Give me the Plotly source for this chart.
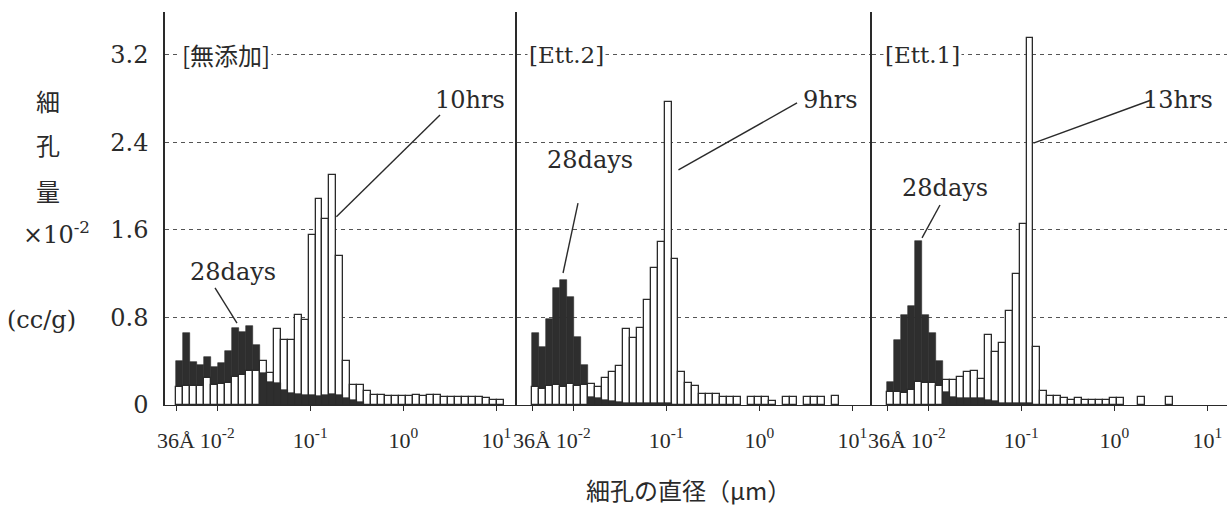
import numpy as np
import plotly.graph_objects as go

# ---------------- data ----------------
# x bins: log10 of pore diameter in micrometres, starting at 36 Angstrom
D_MIN_UM = 0.0036
BIN_DECADES = 0.075
N_BINS = 47
log_edges = np.log10(D_MIN_UM) + BIN_DECADES * np.arange(N_BINS + 1)
log_centers = (log_edges[:-1] + log_edges[1:]) / 2

panel_titles = ["[無添加]", "[Ett.2]", "[Ett.1]"]
early_labels = ["10hrs", "9hrs", "13hrs"]
late_label = "28days"

# pore volume (x10^-2 cc/g) per bin
mutenka_early = [0.16, 0.17, 0.17, 0.17, 0.25, 0.18, 0.19, 0.20, 0.26, 0.27, 0.31, 0.31,
                 0.40, 0.29, 0.69, 0.59, 0.59, 0.82, 0.78, 1.55, 1.88, 1.70, 2.10, 1.36, 0.40,
                 0.18, 0.18, 0.13, 0.09, 0.09, 0.08, 0.08, 0.08, 0.08, 0.09, 0.08, 0.09, 0.09,
                 0.07, 0.07, 0.07, 0.07, 0.07, 0.07, 0.06, 0.05, 0.05]
mutenka_28d = [0.40, 0.66, 0.39, 0.37, 0.44, 0.35, 0.38, 0.49, 0.70, 0.67, 0.72, 0.55,
               0.29, 0.21, 0.20, 0.14, 0.11, 0.10, 0.09, 0.09, 0.08, 0.09, 0.10, 0.09, 0.06,
               0.05, 0.03, 0, 0, 0, 0, 0, 0, 0, 0, 0, 0, 0, 0, 0, 0, 0, 0, 0, 0, 0, 0]

ett2_early = [0.16, 0.15, 0.17, 0.18, 0.16, 0.19, 0.17, 0.18,
              0.19, 0.16, 0.25, 0.30, 0.36,
              0.69, 0.61, 0.70, 0.96, 1.25, 1.49, 2.77, 1.33,
              0.30, 0.20, 0.17, 0.10, 0.10, 0.10, 0.07, 0.07, 0.07, 0, 0.07, 0.07, 0.07,
              0.04, 0, 0.07, 0.07, 0, 0.07, 0.07, 0.07, 0, 0.08, 0, 0, 0]
ett2_28d = [0.66, 0.53, 0.79, 1.07, 1.14, 0.99, 0.62, 0.37, 0.07, 0.06, 0.05, 0.04, 0.03,
            0.02, 0.02, 0.02, 0.02, 0.02, 0.02, 0.02,
            0, 0, 0, 0, 0, 0, 0, 0, 0, 0, 0, 0, 0, 0, 0, 0, 0, 0, 0, 0, 0, 0, 0, 0, 0, 0, 0]

ett1_early = [0.12, 0.12, 0.11, 0.14, 0.21, 0.20, 0.20, 0.17, 0.23, 0.23, 0.26, 0.30, 0.31,
              0.24, 0.64, 0.48, 0.57, 0.86, 1.20, 1.65, 3.35, 0.53, 0.13, 0.08, 0.08, 0.06,
              0.05, 0.06, 0.05, 0.05, 0.05, 0.05, 0.06, 0.06, 0, 0, 0.07, 0, 0, 0, 0.07,
              0, 0, 0, 0, 0, 0]
ett1_28d = [0.21, 0.59, 0.82, 0.90, 1.50, 0.82, 0.66, 0.40, 0.12, 0.07, 0.06, 0.06, 0.06,
            0.06, 0.05, 0.04, 0.02, 0.02, 0.02, 0.02, 0.02,
            0, 0, 0, 0, 0, 0, 0, 0, 0, 0, 0, 0, 0, 0, 0, 0, 0, 0, 0, 0, 0, 0, 0, 0, 0, 0]

x_tick_vals = [np.log10(D_MIN_UM), -2, -1, 0, 1]
x_tick_text = ["36Å", "10<sup>-2</sup>", "10<sup>-1</sup>", "10<sup>0</sup>", "10<sup>1</sup>"]
y_tick_vals = [0, 0.8, 1.6, 2.4, 3.2]
y_tick_text = ["0", "0.8", "1.6", "2.4", "3.2"]

panels = [(mutenka_early, mutenka_28d), (ett2_early, ett2_28d), (ett1_early, ett1_28d)]

# ---------------- style ----------------
INK = "#2a2a2a"
DARK = "#2e2e2e"
SERIF = "DejaVu Serif, Noto Sans CJK JP"
TICKSERIF = "Liberation Serif, DejaVu Serif"
CJK = "Noto Sans CJK JP"

fig = go.Figure()
axis_ids = [("x", "y"), ("x2", "y2"), ("x3", "y3")]


def nz(values):
    return [v if v > 0 else None for v in values]


for (early, late), (xa, ya) in zip(panels, axis_ids):
    # 28 days (dark) underneath
    fig.add_trace(go.Bar(x=log_centers, y=nz(late), width=BIN_DECADES,
                         marker=dict(color=DARK, line=dict(color=DARK, width=0.6)),
                         xaxis=xa, yaxis=ya, showlegend=False, hoverinfo="skip"))
    # early age (open bars)
    fig.add_trace(go.Bar(x=log_centers, y=nz(early), width=BIN_DECADES,
                         marker=dict(color="white", line=dict(color=INK, width=1.3)),
                         xaxis=xa, yaxis=ya, showlegend=False, hoverinfo="skip"))
    # 28 days where it is lower than the open bar: drawn on top
    late_top = [l if (l > 0 and l < e) else None for e, l in zip(early, late)]
    fig.add_trace(go.Bar(x=log_centers, y=late_top, width=BIN_DECADES,
                         marker=dict(color=DARK, line=dict(color=DARK, width=0.6)),
                         xaxis=xa, yaxis=ya, showlegend=False, hoverinfo="skip"))

W, H = 1227, 506
L, R, T, B = 165, 0, 12, 101
PW = W - L - R
d1 = 352 / PW
d2 = 707 / PW

x_ranges = [[-2.562, 1.223], [-2.605, 1.212], [-2.605, 1.212]]
domains = [[0, d1], [d1, d2], [d2, 1]]

common_x = dict(tickvals=x_tick_vals, ticktext=x_tick_text, ticks="outside", ticklen=5,
                tickcolor=INK, showline=True, linecolor=INK, linewidth=1.2,
                showgrid=False, zeroline=False, tickangle=0, automargin=False,
                tickfont=dict(family=TICKSERIF, size=22, color=INK),
                ticklabelstandoff=10)
common_y = dict(range=[0, 3.59], tickvals=y_tick_vals, showline=True, linecolor=INK,
                linewidth=1.5, showgrid=True, gridcolor="#555555", gridwidth=1,
                griddash="4px,4px", zeroline=False, ticks="", automargin=False)

layout = dict(width=W, height=H, margin=dict(l=L, r=R, t=T, b=B),
              paper_bgcolor="white", plot_bgcolor="white", barmode="overlay",
              bargap=0, showlegend=False)
for i, (xa, ya) in enumerate(axis_ids):
    xk = "xaxis" if i == 0 else f"xaxis{i+1}"
    yk = "yaxis" if i == 0 else f"yaxis{i+1}"
    layout[xk] = dict(common_x, domain=domains[i], range=x_ranges[i], anchor=ya)
    if i == 0:
        layout[yk] = dict(common_y, domain=[0, 1], anchor=xa, ticktext=y_tick_text,
                          tickfont=dict(family=SERIF, size=24, color=INK),
                          ticklabelstandoff=10)
    else:
        layout[yk] = dict(common_y, domain=[0, 1], anchor=xa, matches="y",
                          showticklabels=False)
fig.update_layout(**layout)

# ---------------- annotations ----------------
ann = []
title_x = [-2.401, -2.497, -2.487]
for i, (xa, ya) in enumerate(axis_ids):
    fam = CJK if i == 0 else SERIF
    ann.append(dict(text=panel_titles[i], x=title_x[i], y=3.2, xref=xa, yref=ya,
                    xanchor="left", yanchor="middle", showarrow=False,
                    bgcolor="white", borderpad=1,
                    font=dict(family=fam, size=24 if i == 0 else 23, color=INK)))

# early-age labels and callout lines
early_txt = [(0.718, 2.786), (0.761, 2.786), (0.685, 2.786)]
early_line = [(0.395, 2.649, -0.719, 1.72), (0.406, 2.759, -0.869, 2.147),
              (0.398, 2.786, -0.869, 2.393)]
late_txt = [(-1.831, 1.215), (-1.820, 2.238), (-1.820, 1.982)]
late_line = [(-2.024, 1.069, -1.788, 0.749), (-1.949, 1.845, -2.110, 1.206),
             (-1.874, 1.827, -2.067, 1.526)]
shapes = []
for i, (xa, ya) in enumerate(axis_ids):
    ann.append(dict(text=early_labels[i], x=early_txt[i][0], y=early_txt[i][1], xref=xa,
                    yref=ya, showarrow=False, font=dict(family=SERIF, size=24, color=INK)))
    ann.append(dict(text=late_label, x=late_txt[i][0], y=late_txt[i][1], xref=xa,
                    yref=ya, showarrow=False, font=dict(family=SERIF, size=24, color=INK)))
    for seg in (early_line[i], late_line[i]):
        shapes.append(dict(type="line", xref=xa, yref=ya, x0=seg[0], y0=seg[1],
                           x1=seg[2], y1=seg[3], line=dict(color=INK, width=1.4)))

# y-axis title pieces
ytitle = [("細", -0.110, 0.776, CJK), ("孔", -0.110, 0.662, CJK), ("量", -0.110, 0.547, CJK),
          ("×10<sup>-2</sup>", -0.102, 0.438, SERIF), ("(cc/g)", -0.116, 0.216, SERIF)]
for txt, xx, yy, fam in ytitle:
    ann.append(dict(text=txt, x=xx, y=yy, xref="paper", yref="paper", showarrow=False,
                    xanchor="center", yanchor="middle",
                    font=dict(family=fam, size=24, color=INK)))

ann.append(dict(text="細孔の直径（μm）", x=0.4925, y=-0.216, xref="paper", yref="paper",
                showarrow=False, xanchor="center", yanchor="middle",
                font=dict(family=CJK, size=24, color=INK)))

fig.update_layout(annotations=ann, shapes=shapes)
fig.write_html("out.html")
